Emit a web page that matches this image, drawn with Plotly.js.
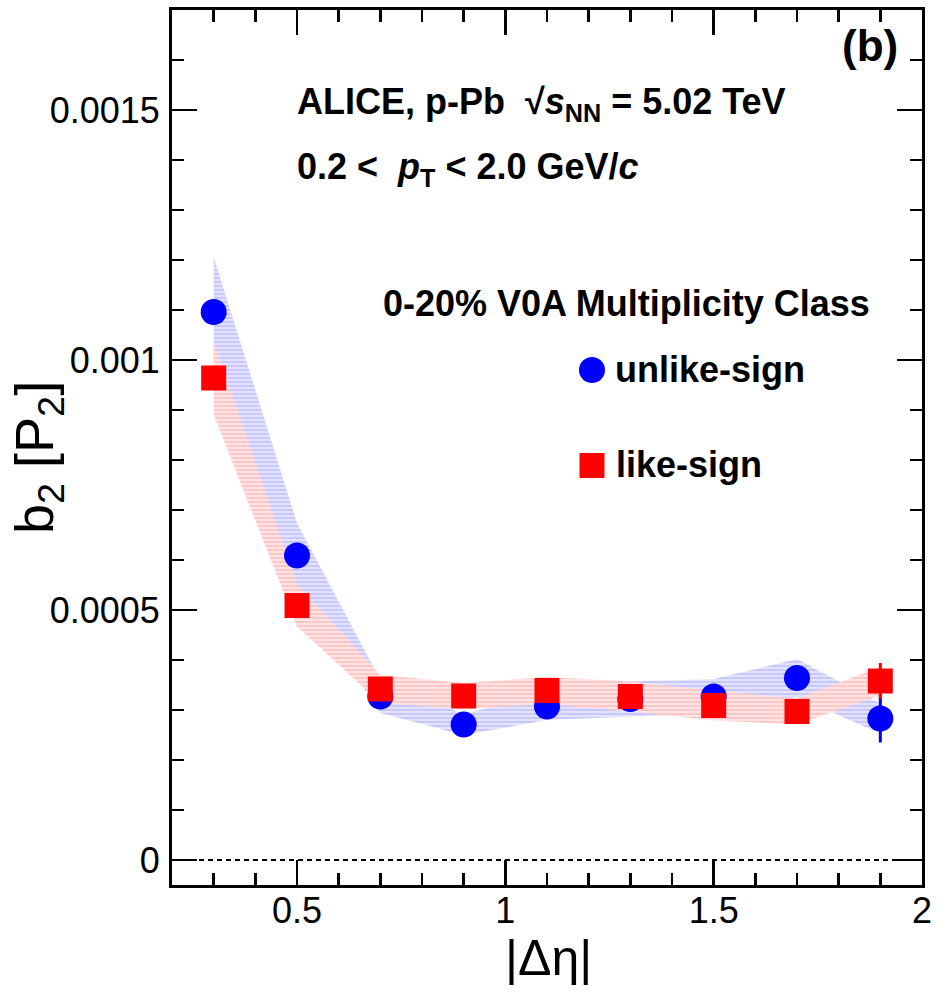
<!DOCTYPE html>
<html>
<head>
<meta charset="utf-8">
<script src="https://cdn.plot.ly/plotly-3.0.1.min.js"></script>
<style>html,body{margin:0;padding:0;background:#fff;}</style>
</head>
<body>
<div id="chart" style="width:950px;height:1007px;"></div>
<script>
// ---- data ----
const dEta       = [0.3, 0.5, 0.7, 0.9, 1.1, 1.3, 1.5, 1.7, 1.9];
const unlikeB2   = [0.001096, 0.000609, 0.000327, 0.000271, 0.000307, 0.000322, 0.000327, 0.000364, 0.000283];
const unlikeStat = [0.000020, 0.000015, 0.000010, 0.000010, 0.000012, 0.000012, 0.000015, 0.000020, 0.000048];
const unlikeSys  = [0.000110, 0.000065, 0.000033, 0.000021, 0.000027, 0.000035, 0.000035, 0.000038, 0.000030];
const likeB2     = [0.000964, 0.000509, 0.000342, 0.000328, 0.000339, 0.000327, 0.000309, 0.000297, 0.000358];
const likeStat   = [0.000020, 0.000015, 0.000010, 0.000010, 0.000010, 0.000012, 0.000015, 0.000018, 0.000036];
const likeSys    = [0.000073, 0.000042, 0.000028, 0.000026, 0.000027, 0.000030, 0.000030, 0.000026, 0.000028];
const seriesNames = ['unlike-sign', 'like-sign'];
const yTickText = ['0', '0.0005', '0.001', '0.0015'];

const FONT = 'Liberation Sans, Arial, Helvetica, sans-serif';

function band(x, y, e) {
  const up = y.map((v, i) => v + e[i]);
  const lo = y.map((v, i) => v - e[i]);
  return { x: x.concat(x.slice().reverse()), y: up.concat(lo.slice().reverse()) };
}
const bU = band(dEta, unlikeB2, unlikeSys);
const bL = band(dEta, likeB2, likeSys);

const traces = [
  { type: 'scatter', mode: 'lines', x: bU.x, y: bU.y, fill: 'toself',
    line: { width: 0, color: 'rgba(0,0,0,0)' }, fillcolor: '#c8c8ff',
    fillpattern: { shape: '-', bgcolor: '#c8c8ff', fgcolor: '#ffffff', size: 4, solidity: 0.25 },
    hoverinfo: 'skip', showlegend: false },
  { type: 'scatter', mode: 'lines', x: bL.x, y: bL.y, fill: 'toself',
    line: { width: 0, color: 'rgba(0,0,0,0)' }, fillcolor: '#ffc8c8',
    fillpattern: { shape: '-', bgcolor: '#ffc8c8', fgcolor: '#ffffff', size: 4, solidity: 0.25 },
    hoverinfo: 'skip', showlegend: false },
  { type: 'scatter', mode: 'markers', name: seriesNames[0], x: dEta, y: unlikeB2,
    marker: { symbol: 'circle', size: 26, color: '#0000ff', line: { width: 0 } },
    error_y: { type: 'data', array: unlikeStat, color: '#0000ff', thickness: 3, width: 0 } },
  { type: 'scatter', mode: 'markers', name: seriesNames[1], x: dEta, y: likeB2,
    marker: { symbol: 'square', size: 25, color: '#ff0000', line: { width: 0 } },
    error_y: { type: 'data', array: likeStat, color: '#ff0000', thickness: 3, width: 0 } }
];

const axisCommon = {
  ticks: 'inside', ticklen: 25, tickwidth: 2.5, tickcolor: '#000',
  showline: true, linewidth: 3, linecolor: '#000', mirror: 'ticks',
  showgrid: false, zeroline: false,
  tickfont: { family: FONT, size: 36, color: '#000' }
};

const L = 172, R = 922, T = 10, B = 885;
const px = v => (v - L) / (R - L);
const py = v => (B - v) / (B - T);

const layout = {
  width: 950, height: 1007,
  margin: { l: L, r: 950 - R, t: T, b: 1007 - B, pad: 0 },
  paper_bgcolor: '#fff', plot_bgcolor: '#fff',
  showlegend: false,
  xaxis: Object.assign({}, axisCommon, {
    range: [0.2, 2], tickmode: 'linear', tick0: 0, dtick: 0.5, tickformat: '~g',
    ticklabelstandoff: -8,
    minor: { tickmode: 'linear', tick0: 0, dtick: 0.1, ticks: 'inside', ticklen: 12, tickwidth: 2.5, tickcolor: '#000', showgrid: false }
  }),
  yaxis: Object.assign({}, axisCommon, {
    range: [-0.00005, 0.0017], tickmode: 'array', tickvals: [0, 0.0005, 0.001, 0.0015], ticktext: yTickText,
    ticklabelstandoff: 2,
    minor: { tickmode: 'linear', tick0: 0, dtick: 0.0001, ticks: 'inside', ticklen: 12, tickwidth: 2.5, tickcolor: '#000', showgrid: false }
  }),
  shapes: [
    { type: 'line', xref: 'paper', x0: 0, x1: 1, yref: 'y', y0: 0, y1: 0,
      line: { color: '#000', width: 2, dash: '5px,4px' } },
    { type: 'circle', xref: 'paper', yref: 'paper', xsizemode: 'pixel', ysizemode: 'pixel',
      xanchor: px(592), yanchor: py(370), x0: -13, x1: 13, y0: -13, y1: 13,
      fillcolor: '#0000ff', line: { width: 0 } },
    { type: 'rect', xref: 'paper', yref: 'paper', xsizemode: 'pixel', ysizemode: 'pixel',
      xanchor: px(592), yanchor: py(465.5), x0: -12.5, x1: 12.5, y0: -12.5, y1: 12.5,
      fillcolor: '#ff0000', line: { width: 0 } }
  ],
  annotations: [
    { xref: 'paper', yref: 'paper', x: 0, y: py(458), xshift: -(L - 38), xanchor: 'center', yanchor: 'middle',
      textangle: -90, showarrow: false, text: 'b<sub>2</sub> [P<sub>2</sub>]',
      font: { family: FONT, size: 54, color: '#000' } },
    { xref: 'paper', yref: 'paper', x: px(548), y: 0, yshift: -(958 - B), xanchor: 'center', yanchor: 'middle',
      showarrow: false, text: '|\u0394\u03b7|', font: { family: FONT, size: 50, color: '#000' } },
    { xref: 'paper', yref: 'paper', x: px(870), y: py(45), xanchor: 'center', yanchor: 'middle',
      showarrow: false, text: '<b>(b)</b>', font: { family: FONT, size: 44, color: '#000' } },
    { xref: 'paper', yref: 'paper', x: px(295), y: py(104), xanchor: 'left', yanchor: 'middle',
      showarrow: false, text: '<b>ALICE, p-Pb \u00a0\u221a<i>s</i><sub>NN</sub> = 5.02 TeV</b>',
      font: { family: FONT, size: 36, color: '#000' } },
    { xref: 'paper', yref: 'paper', x: px(295), y: py(169), xanchor: 'left', yanchor: 'middle',
      showarrow: false, text: '<b>0.2 < \u00a0<i>p</i><sub>T</sub> < 2.0 GeV/<i>c</i></b>',
      font: { family: FONT, size: 36, color: '#000' } },
    { xref: 'paper', yref: 'paper', x: px(381), y: py(304), xanchor: 'left', yanchor: 'middle',
      showarrow: false, text: '<b>0-20% V0A Multiplicity Class</b>',
      font: { family: FONT, size: 36, color: '#000' } },
    { xref: 'paper', yref: 'paper', x: px(613), y: py(369), xanchor: 'left', yanchor: 'middle',
      showarrow: false, text: '<b>' + seriesNames[0] + '</b>',
      font: { family: FONT, size: 36, color: '#000' } },
    { xref: 'paper', yref: 'paper', x: px(614), y: py(464), xanchor: 'left', yanchor: 'middle',
      showarrow: false, text: '<b>' + seriesNames[1] + '</b>',
      font: { family: FONT, size: 36, color: '#000' } }
  ]
};

Plotly.newPlot('chart', traces, layout, { displayModeBar: false, staticPlot: true });
</script>
</body>
</html>
